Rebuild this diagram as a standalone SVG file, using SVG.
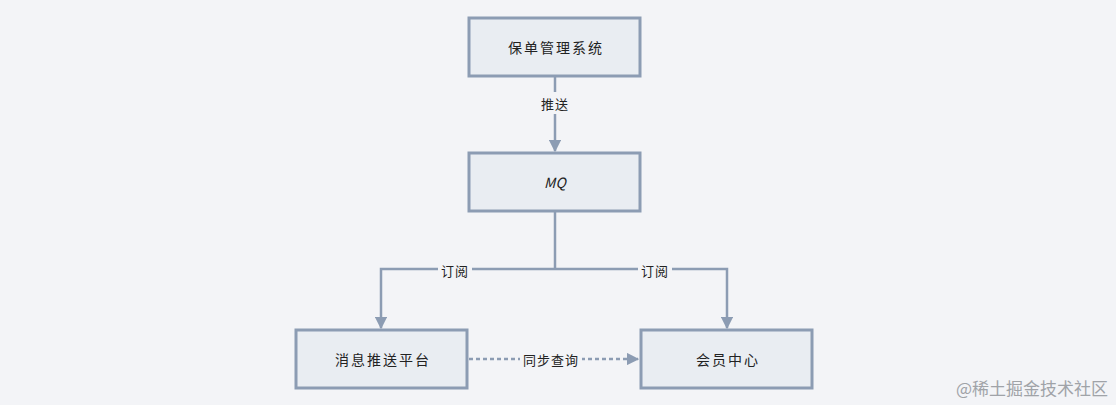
<svg xmlns="http://www.w3.org/2000/svg" width="1116" height="405" viewBox="0 0 1116 405">
<style>
.box{fill:#e9edf2;stroke:#8c9cb3;stroke-width:3}
.lbl{font-family:"Noto Sans CJK SC","Liberation Sans",sans-serif;font-size:14px;letter-spacing:2px;fill:#222;text-anchor:middle;dominant-baseline:central}
.edge{fill:none;stroke:#8c9cb3;stroke-width:2.5}
.elbl{font-family:"Noto Sans CJK SC",sans-serif;font-size:13px;letter-spacing:1px;fill:#222;text-anchor:middle;dominant-baseline:central}
.bg{fill:#f3f4f7}
</style>
<defs>
<marker id="arr" viewBox="0 0 10 10" refX="9" refY="5" markerWidth="5" markerHeight="5" orient="auto">
<path d="M0,0 L10,5 L0,10 z" fill="#8c9cb3"/>
</marker>
</defs>
<rect width="1116" height="405" fill="#f3f4f7"/>
<g id="connectors">
<path class="edge" d="M555,77 V92"/>
<path class="edge" d="M555,114 V151" marker-end="url(#arr)"/>
<rect class="bg" x="535" y="94" width="40" height="18"/>
<text class="elbl" x="555" y="103">推送</text>
<path class="edge" d="M555,212 V269"/>
<path class="edge" d="M555,269 H381 V328" marker-end="url(#arr)"/>
<path class="edge" d="M555,269 H727 V328" marker-end="url(#arr)"/>
<rect class="bg" x="438" y="261" width="34" height="18"/>
<text class="elbl" x="455" y="270">订阅</text>
<rect class="bg" x="638" y="261" width="34" height="18"/>
<text class="elbl" x="655" y="270">订阅</text>
<path class="edge" d="M469,359 H638" stroke-dasharray="4 3" marker-end="url(#arr)"/>
<rect class="bg" x="520" y="349" width="62" height="20"/>
<text class="elbl" x="551" y="359">同步查询</text>
</g>
<g id="node-baodan">
<rect class="box" x="469" y="18" width="171" height="58"/>
<text class="lbl" x="556" y="47">保单管理系统</text>
</g>
<g id="node-mq">
<rect class="box" x="469" y="153" width="171" height="58"/>
<text class="lbl" x="555" y="182" style="font-style:italic;letter-spacing:0">MQ</text>
</g>
<g id="node-push">
<rect class="box" x="296" y="330" width="171" height="58"/>
<text class="lbl" x="383" y="359">消息推送平台</text>
</g>
<g id="node-member">
<rect class="box" x="641" y="330" width="171" height="58"/>
<text class="lbl" x="728" y="359">会员中心</text>
</g>
<text x="1108" y="387" font-family="Noto Sans CJK SC,sans-serif" font-size="17" fill="#a0a3a8" text-anchor="end" dominant-baseline="central">@稀土掘金技术社区</text>
</svg>
